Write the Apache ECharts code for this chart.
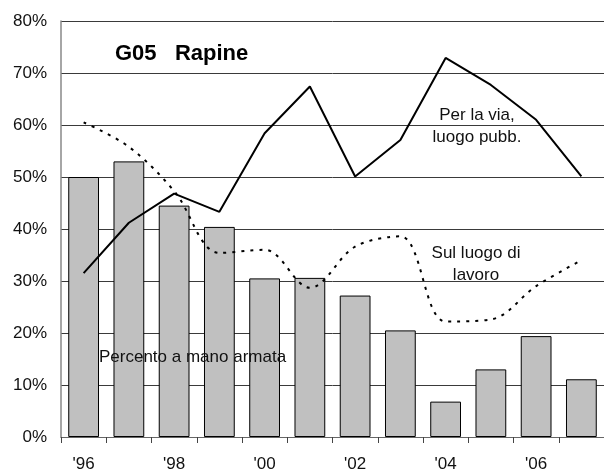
<!DOCTYPE html>
<html>
<head>
<meta charset="utf-8">
<script src="https://cdn.jsdelivr.net/npm/echarts@6/dist/echarts.min.js"></script>
<style>
  html, body { margin: 0; padding: 0; background: #fff; }
  #main { width: 604px; height: 473px; }
</style>
</head>
<body>
<div id="main"></div>
<script>
// anni e valori
var years = ["'96", "'97", "'98", "'99", "'00", "'01", "'02", "'03", "'04", "'05", "'06", "'07"]
var manoArmata = [50, 53, 44.5, 40.4, 30.5, 30.6, 27.2, 20.5, 6.8, 13.0, 19.4, 11.1]
var perLaVia = [31.5, 41.2, 46.8, 43.3, 58.4, 67.4, 50.1, 57.1, 72.9, 67.7, 61.0, 50.1]
var luogoLavoro = [60.5, 55.8, 47.3, 35.4, 36.0, 28.7, 36.6, 38.6, 22.2, 22.6, 29.0, 34.0]
var yTicks = [0, 10, 20, 30, 40, 50, 60, 70, 80]

var font = 'Liberation Sans, Arial, sans-serif'
var myChart = echarts.init(document.getElementById('main'))

myChart.setOption({
  animation: false,
  backgroundColor: '#fff',
  title: {
    text: 'G05   Rapine',
    left: 110,
    top: 38,
    textStyle: { fontFamily: font, fontSize: 22, fontWeight: 'bold', color: '#000' }
  },
  grid: { left: 61, top: 21, bottom: 36, right: -7, containLabel: false },
  xAxis: {
    type: 'category',
    data: years,
    boundaryGap: true,
    axisLine: { show: true, lineStyle: { color: '#666', width: 1 } },
    axisTick: { show: true, interval: 0, length: 6, lineStyle: { color: '#444' } },
    axisLabel: {
      interval: 1,
      margin: 19,
      fontFamily: font,
      fontSize: 17,
      color: '#111'
    },
    splitLine: { show: false }
  },
  yAxis: {
    type: 'value',
    min: yTicks[0],
    max: yTicks[yTicks.length - 1],
    interval: 10,
    axisLine: { show: true, lineStyle: { color: '#888', width: 1.5 } },
    axisTick: { show: false },
    axisLabel: {
      formatter: '{value}%',
      margin: 14,
      fontFamily: font,
      fontSize: 17,
      color: '#111'
    },
    splitLine: { show: true, lineStyle: { color: '#3a3a3a', width: 1 } }
  },
  graphic: [
    {
      type: 'text',
      x: 477,
      y: 126,
      z: 10,
      style: {
        text: 'Per la via,\nluogo pubb.',
        font: '17px ' + font,
        fill: '#111',
        align: 'center',
        verticalAlign: 'middle',
        lineHeight: 22
      }
    },
    {
      type: 'text',
      x: 476,
      y: 264,
      z: 10,
      style: {
        text: 'Sul luogo di\nlavoro',
        font: '17px ' + font,
        fill: '#111',
        align: 'center',
        verticalAlign: 'middle',
        lineHeight: 22
      }
    },
    {
      type: 'text',
      x: 99,
      y: 357,
      z: 10,
      style: {
        text: 'Percento a mano armata',
        font: '17px ' + font,
        fill: '#111',
        verticalAlign: 'middle'
      }
    }
  ],
  series: [
    {
      name: 'Percento a mano armata',
      type: 'bar',
      data: manoArmata,
      barCategoryGap: '32%',
      itemStyle: { color: '#c0c0c0', borderColor: '#000', borderWidth: 1 }
    },
    {
      name: 'Per la via, luogo pubb.',
      type: 'line',
      data: perLaVia,
      symbol: 'none',
      lineStyle: { color: '#000', width: 2 },
      z: 5
    },
    {
      name: 'Sul luogo di lavoro',
      type: 'line',
      data: luogoLavoro,
      symbol: 'none',
      smooth: 0.35,
      lineStyle: { color: '#000', width: 2, type: [3, 6] },
      z: 5
    }
  ]
})
</script>
</body>
</html>
